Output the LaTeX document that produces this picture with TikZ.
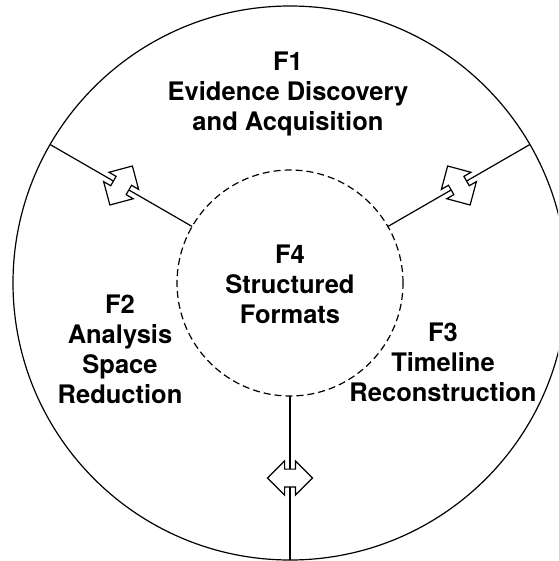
\documentclass[tikz,border=0pt]{standalone}
\usepackage{fontspec}
\setmainfont{TeX Gyre Heros}
\usetikzlibrary{shapes.arrows,calc}
\begin{document}
\begin{tikzpicture}[x=1pt,y=-1pt,
  ring/.style={circle,draw,line width=1.2pt,inner sep=0pt,outer sep=0pt},
  spoke/.style={line width=1.2pt},
  dblarrow/.style={double arrow, draw, fill=white, line width=1.2pt,
    minimum height=45pt, minimum width=33pt, inner sep=0pt, inner ysep=8.3pt,
    double arrow head extend=8.2pt, double arrow tip angle=90},
  ftext/.style={align=center, font=\fontsize{25.5}{30}\selectfont\bfseries,
    inner sep=0pt, anchor=north}
]
\useasboundingbox (0,0) rectangle (558,561);
\clip (0,0) rectangle (558,561);
\node[ring, minimum size=554pt] (outer) at (290,283) {};
\node[ring, dash pattern=on 7pt off 4pt, minimum size=226pt] (inner) at (290,283) {};
\draw[spoke] (inner.150) -- (outer.150) node[dblarrow, midway, rotate=60] (aL) {};
\draw[spoke] (inner.30) -- (outer.30) node[dblarrow, midway, rotate=120] (aR) {};
\draw[spoke] (inner.270) -- (outer.270) node[dblarrow, midway] (aB) {};
\node[ftext] (f1) at (288,52) {F1\\Evidence Discovery\\and Acquisition};
\node[ftext] (f2) at (120,295) {F2\\Analysis\\Space\\Reduction};
\node[ftext] (f3) at (443,323) {F3\\Timeline\\Reconstruction};
\node[ftext] (f4) at (290,245) {F4\\Structured\\Formats};
\end{tikzpicture}
\end{document}
